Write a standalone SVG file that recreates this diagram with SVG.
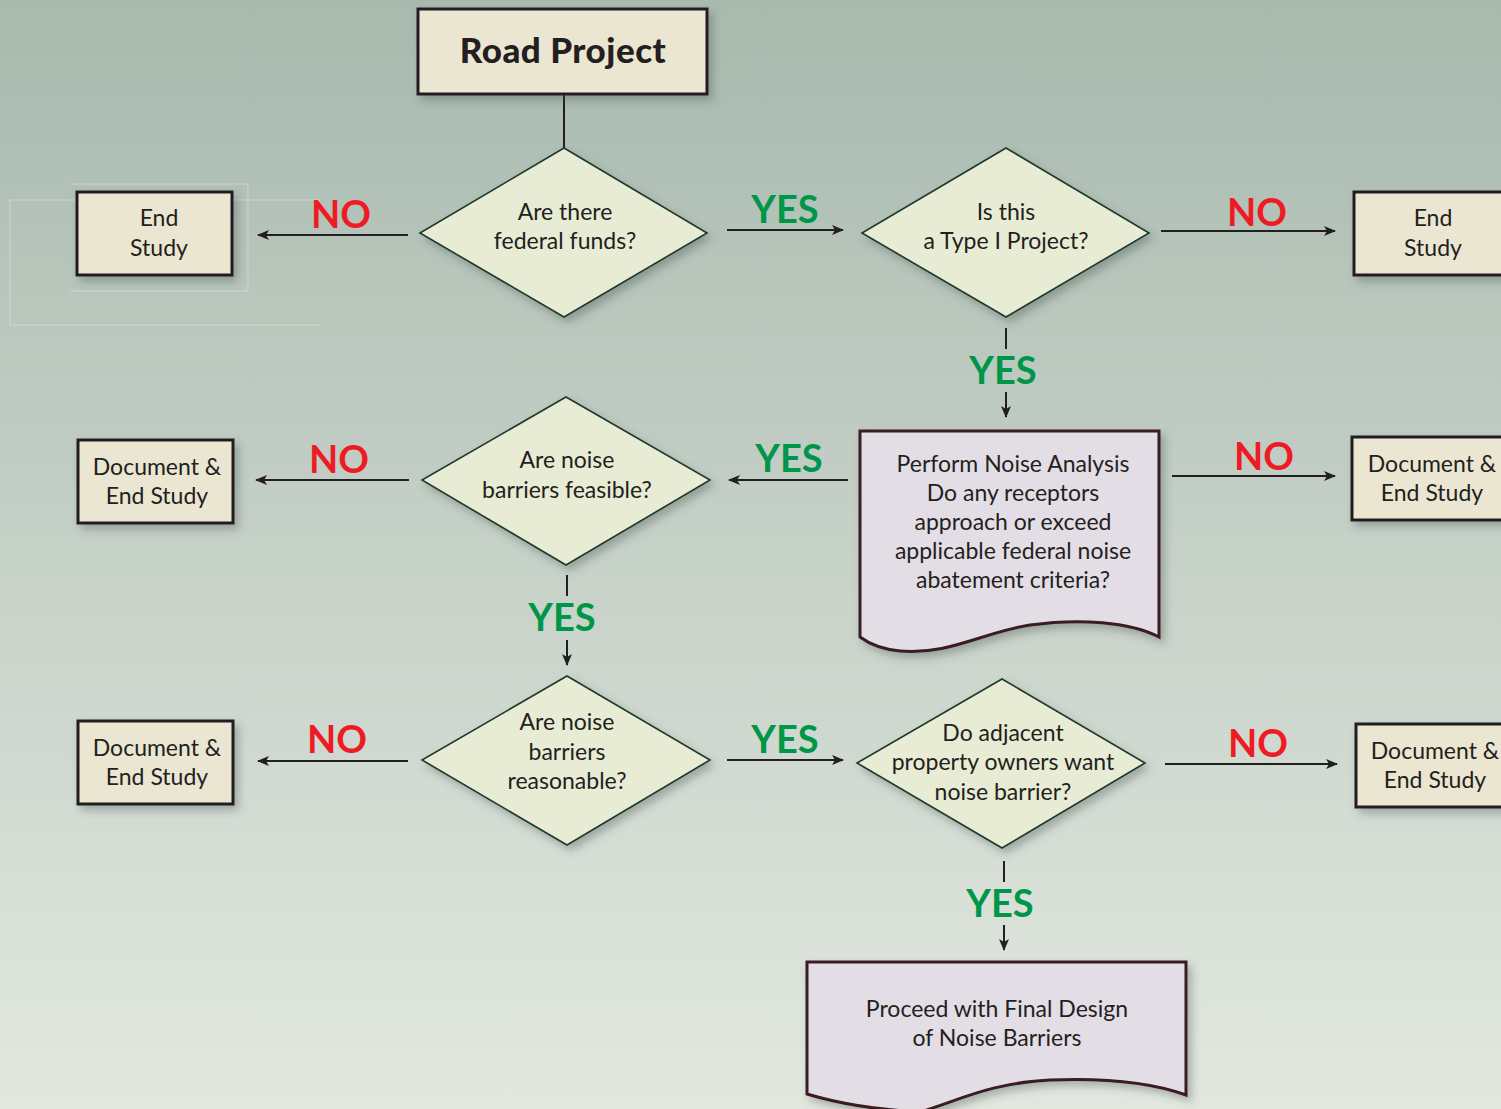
<svg xmlns="http://www.w3.org/2000/svg" width="1501" height="1109" viewBox="0 0 1501 1109">
<defs>
<linearGradient id="bg" x1="0" y1="0" x2="0" y2="1">
<stop offset="0" stop-color="#a8b9ae"/>
<stop offset="0.5" stop-color="#c6d1c8"/>
<stop offset="1" stop-color="#e2e8e0"/>
</linearGradient>
<filter id="sh" x="-10%" y="-10%" width="130%" height="130%">
<feDropShadow dx="4" dy="5" stdDeviation="4" flood-color="#3a4a40" flood-opacity="0.35"/>
</filter>
<marker id="arr" viewBox="0 0 12 10" refX="11" refY="5" markerWidth="12" markerHeight="10" markerUnits="userSpaceOnUse" orient="auto">
<path d="M0,0 L12,5 L0,10 L3,5 z" fill="#231f20"/>
</marker>
<style>
.box{fill:#ebe6d1;stroke:#231f20;stroke-width:3;filter:url(#sh)}
.dia{fill:#e8ecd4;stroke:#1e3a2c;stroke-width:1.6;filter:url(#sh)}
.doc{fill:#e3dde6;stroke:#3a1a24;stroke-width:3;filter:url(#sh)}
.t{font-family:Lato,"Open Sans","Liberation Sans",sans-serif;font-size:23px;fill:#231f20;text-anchor:middle}
.title{font-family:Lato,"Open Sans","Liberation Sans",sans-serif;font-size:35px;font-weight:900;fill:#231f20;text-anchor:middle;letter-spacing:0.5px}
.no{font-family:Lato,"Open Sans","Liberation Sans",sans-serif;font-size:38px;font-weight:bold;fill:#ed1c24;text-anchor:middle}
.yes{font-family:Lato,"Open Sans","Liberation Sans",sans-serif;font-size:38px;font-weight:bold;fill:#00964a;text-anchor:middle}
.c{fill:none;stroke:#231f20;stroke-width:2}
.a{fill:none;stroke:#231f20;stroke-width:2;marker-end:url(#arr)}
.faint{fill:none;stroke:#dfe6df;stroke-width:1;opacity:0.6}
</style>
</defs>
<rect x="0" y="0" width="1501" height="1109" fill="url(#bg)"/>
<g id="artifacts">
<path class="faint" d="M70,184 H248 V291 H70"/>
<path class="faint" d="M10,200 H320 M10,200 V325 H320"/>
</g>
<g id="connectors">
<line class="c" x1="564" y1="94" x2="564" y2="148"/>
<line class="a" x1="408" y1="235" x2="258" y2="235"/>
<text class="no" x="341" y="228">NO</text>
<line class="a" x1="727" y1="230" x2="843" y2="230"/>
<text class="yes" x="785" y="223">YES</text>
<line class="a" x1="1161" y1="231" x2="1335" y2="231"/>
<text class="no" x="1257" y="226">NO</text>
<line class="c" x1="1006" y1="328" x2="1006" y2="349"/>
<text class="yes" x="1003" y="384">YES</text>
<line class="a" x1="1006" y1="392" x2="1006" y2="417"/>
<line class="a" x1="848" y1="480" x2="729" y2="480"/>
<text class="yes" x="789" y="472">YES</text>
<line class="a" x1="1172" y1="476" x2="1335" y2="476"/>
<text class="no" x="1264" y="470">NO</text>
<line class="a" x1="409" y1="480" x2="256" y2="480"/>
<text class="no" x="339" y="473">NO</text>
<line class="c" x1="567" y1="575" x2="567" y2="596"/>
<text class="yes" x="562" y="631">YES</text>
<line class="a" x1="567" y1="640" x2="567" y2="665"/>
<line class="a" x1="408" y1="761" x2="258" y2="761"/>
<text class="no" x="337" y="753">NO</text>
<line class="a" x1="727" y1="760" x2="843" y2="760"/>
<text class="yes" x="785" y="753">YES</text>
<line class="a" x1="1165" y1="764" x2="1337" y2="764"/>
<text class="no" x="1258" y="757">NO</text>
<line class="c" x1="1004" y1="861" x2="1004" y2="882"/>
<text class="yes" x="1000" y="917">YES</text>
<line class="a" x1="1004" y1="925" x2="1004" y2="950"/>
</g>
<g id="road-project">
<rect class="box" x="418" y="9" width="289" height="85"/>
<text class="title" x="563" y="63">Road Project</text>
</g>
<g id="federal-funds">
<polygon class="dia" points="564,148 707,233 564,317 420,233"/>
<text class="t" x="565" y="220">Are there</text>
<text class="t" x="565" y="249">federal funds?</text>
</g>
<g id="end-study-left">
<rect class="box" x="77" y="192" width="155" height="83"/>
<text class="t" x="159" y="226">End</text>
<text class="t" x="159" y="256">Study</text>
</g>
<g id="type-one">
<polygon class="dia" points="1006,148 1149,233 1006,317 862,233"/>
<text class="t" x="1006" y="220">Is this</text>
<text class="t" x="1006" y="249">a Type I Project?</text>
</g>
<g id="end-study-right">
<rect class="box" x="1354" y="192" width="160" height="83"/>
<text class="t" x="1433" y="226">End</text>
<text class="t" x="1433" y="256">Study</text>
</g>
<g id="noise-analysis">
<path class="doc" d="M860,431 H1159 V637 C1130,622 1080,618 1030,625 C980,633 950,655 900,651 C880,649 868,643 860,637 Z"/>
<text class="t" x="1013" y="472">Perform Noise Analysis</text>
<text class="t" x="1013" y="501">Do any receptors</text>
<text class="t" x="1013" y="530">approach or exceed</text>
<text class="t" x="1013" y="559">applicable federal noise</text>
<text class="t" x="1013" y="588">abatement criteria?</text>
</g>
<g id="doc-end-right-1">
<rect class="box" x="1352" y="437" width="162" height="83"/>
<text class="t" x="1432" y="472">Document &amp;</text>
<text class="t" x="1432" y="501">End Study</text>
</g>
<g id="feasible">
<polygon class="dia" points="566,397 710,480 566,565 422,480"/>
<text class="t" x="567" y="468">Are noise</text>
<text class="t" x="567" y="498">barriers feasible?</text>
</g>
<g id="doc-end-left-1">
<rect class="box" x="78" y="440" width="155" height="83"/>
<text class="t" x="157" y="475">Document &amp;</text>
<text class="t" x="157" y="504">End Study</text>
</g>
<g id="reasonable">
<polygon class="dia" points="567,676 710,760 567,845 422,760"/>
<text class="t" x="567" y="730">Are noise</text>
<text class="t" x="567" y="760">barriers</text>
<text class="t" x="567" y="789">reasonable?</text>
</g>
<g id="doc-end-left-2">
<rect class="box" x="78" y="721" width="155" height="83"/>
<text class="t" x="157" y="756">Document &amp;</text>
<text class="t" x="157" y="785">End Study</text>
</g>
<g id="owners-want">
<polygon class="dia" points="1002,679 1145,763 1002,848 857,763"/>
<text class="t" x="1003" y="741">Do adjacent</text>
<text class="t" x="1003" y="770">property owners want</text>
<text class="t" x="1003" y="800">noise barrier?</text>
</g>
<g id="doc-end-right-2">
<rect class="box" x="1356" y="724" width="160" height="83"/>
<text class="t" x="1435" y="759">Document &amp;</text>
<text class="t" x="1435" y="788">End Study</text>
</g>
<g id="final-design">
<path class="doc" d="M807,962 H1186 V1095 C1150,1082 1100,1078 1050,1080 C990,1083 960,1100 920,1112 C880,1110 840,1104 807,1094 Z"/>
<text class="t" x="997" y="1017">Proceed with Final Design</text>
<text class="t" x="997" y="1046">of Noise Barriers</text>
</g>
</svg>
